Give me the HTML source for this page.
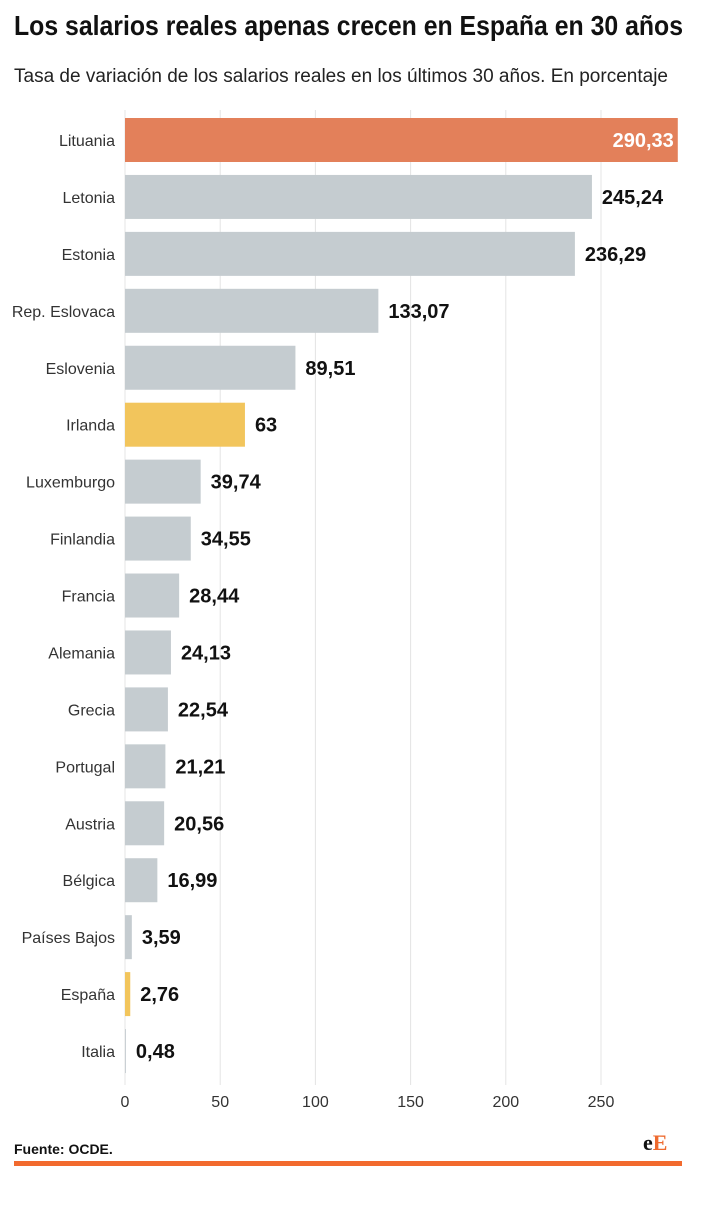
<!DOCTYPE html>
<html><head><meta charset="utf-8">
<style>
body{margin:0;background:#fff;width:703px;height:1200px;overflow:hidden;font-family:"Liberation Sans",sans-serif}
svg text{font-family:"Liberation Sans",sans-serif}
</style></head>
<body>
<svg id="chart" width="703" height="1200" xmlns="http://www.w3.org/2000/svg">
<text x="14" y="35" font-size="28" font-weight="bold" fill="#111" textLength="669" lengthAdjust="spacingAndGlyphs">Los salarios reales apenas crecen en España en 30 años</text>
<text x="14" y="82" font-size="19" fill="#222" textLength="654" lengthAdjust="spacingAndGlyphs">Tasa de variación de los salarios reales en los últimos 30 años. En porcentaje</text>
<g id="grid"></g><g id="bars"></g><g id="labels"></g>
<text x="14" y="1154" font-size="14" font-weight="bold" fill="#111">Fuente: OCDE.</text>
<text x="643" y="1150" font-size="22" font-weight="bold" font-family="Liberation Serif,serif" style="font-family:'Liberation Serif',serif"><tspan fill="#111">e</tspan><tspan fill="#ee6a2e">E</tspan></text>
<rect x="14" y="1161" width="668" height="5" fill="#f26a2e"/>
</svg>
<script>
const categories=["Lituania","Letonia","Estonia","Rep. Eslovaca","Eslovenia","Irlanda","Luxemburgo","Finlandia","Francia","Alemania","Grecia","Portugal","Austria","Bélgica","Países Bajos","España","Italia"];
const values=[290.33,245.24,236.29,133.07,89.51,63,39.74,34.55,28.44,24.13,22.54,21.21,20.56,16.99,3.59,2.76,0.48];
const valueLabels=["290,33","245,24","236,29","133,07","89,51","63","39,74","34,55","28,44","24,13","22,54","21,21","20,56","16,99","3,59","2,76","0,48"];
const ticks=[0,50,100,150,200,250];
const highlight={"Lituania":"#e3805a","Irlanda":"#f2c55c","España":"#f2c55c"};
const NS="http://www.w3.org/2000/svg";
const x=v=>125+v*1.904;
const y=i=>140+i*56.94;
function mk(t,a,p){const e=document.createElementNS(NS,t);for(const k in a)e.setAttribute(k,a[k]);p.appendChild(e);return e;}
const grid=document.getElementById('grid'),bars=document.getElementById('bars'),labels=document.getElementById('labels');
ticks.forEach(t=>{
 const l=mk('line',{x1:x(t),x2:x(t),y1:110,y2:1085,stroke:'#e4e4e4','stroke-width':1},grid);
 
 
 const tx=mk('text',{x:x(t),y:1107,'text-anchor':'middle','font-size':16,fill:'#333'},grid);
 tx.textContent=t;
 
 
});
categories.forEach((c,i)=>{
 const cy=y(i),w=x(values[i])-x(0);
 const r=mk('rect',{x:x(0),y:cy-22,width:w,height:44,fill:highlight[c]||'#c5ccd0'},bars);
 
 
 const cl=mk('text',{x:115,y:cy+6,'text-anchor':'end','font-size':16,fill:'#333'},labels);
 cl.textContent=c;
 
 
 const inside=i===0;
 const vl=mk('text',{x:inside?x(values[i])-4:x(values[i])+10,y:cy+7,'text-anchor':inside?'end':'start','font-size':20,'font-weight':'bold',fill:inside?'#fff':'#111'},labels);
 vl.textContent=valueLabels[i];
 
 
});
</script>
</body></html>
